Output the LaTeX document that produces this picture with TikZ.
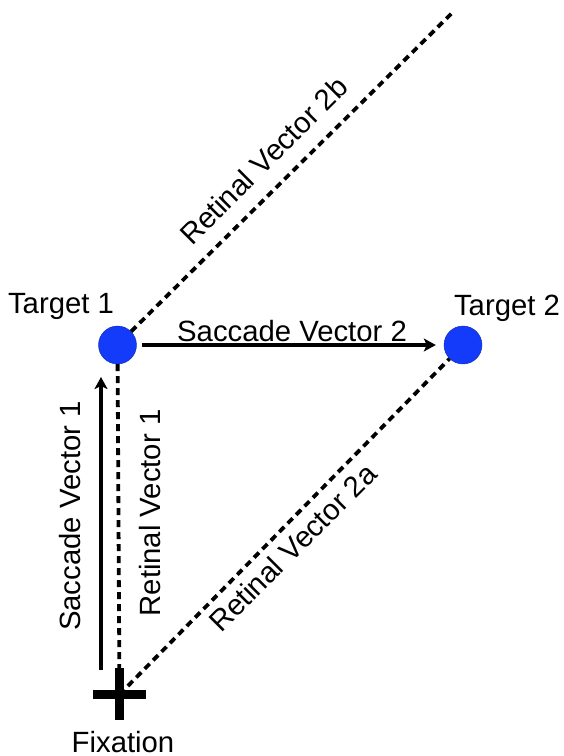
\documentclass[tikz,border=0pt]{standalone}
\usepackage{fontspec}
\setmainfont{Liberation Sans}
\usetikzlibrary{arrows.meta}
\definecolor{tblue}{RGB}{20,58,250}
\begin{document}
\begin{tikzpicture}[x=1pt,y=-1pt,
  lbl/.style={font=\fontsize{29.3}{34}\selectfont, inner sep=0pt, anchor=base},
  target/.style={circle, fill=tblue, draw=tblue!70!black, line width=0.4pt, minimum size=38pt, inner sep=0pt},
  retinal/.style={line width=3.8pt, dash pattern=on 7pt off 5pt},
  saccade/.style={line width=3.5pt, -{Stealth[length=12pt,width=13pt,inset=3pt]}},
  crossbar/.style={line width=9pt}]
\useasboundingbox (0,0) rectangle (563,756);
\node[target] (t1) at (117.5,345) {};
\node[target] (t2) at (463,345) {};
\coordinate (fix) at (119.5,694.5);
\coordinate (top) at (452,13);
\coordinate (s1a) at (101,670);
\coordinate (s1b) at (101,377);
% retinal vectors
\draw[retinal] (t1) -- (fix);
\draw[retinal] (fix) -- (t2);
\draw[retinal] (t1) -- (top);
% saccade vectors
\draw[saccade] (s1a) -- (s1b);
\draw[saccade, shorten <=5pt, shorten >=8pt] (t1) -- (t2);
% fixation cross
\draw[crossbar] ([xshift=-26.5pt]fix) -- ([xshift=26.5pt]fix);
\draw[crossbar] ([yshift=-25.5pt]fix) -- ([yshift=26.5pt]fix);
% labels
\node[lbl] (lt1) at (61,313) {Target 1};
\node[lbl] (lt2) at (507,315) {Target 2};
\node[lbl] (lfix) at (123,752) {Fixation};
\node[lbl] (ls2) at (292,341) {Saccade Vector 2};
\node[lbl, rotate=90] (ls1) at (80,516) {Saccade Vector 1};
\node[lbl, rotate=90] (lr1) at (160,513) {Retinal Vector 1};
\node[lbl, rotate=45] (lr2b) at (271,168) {Retinal Vector 2b};
\node[lbl, rotate=45] (lr2a) at (300,555) {Retinal Vector 2a};
\end{tikzpicture}
\end{document}
